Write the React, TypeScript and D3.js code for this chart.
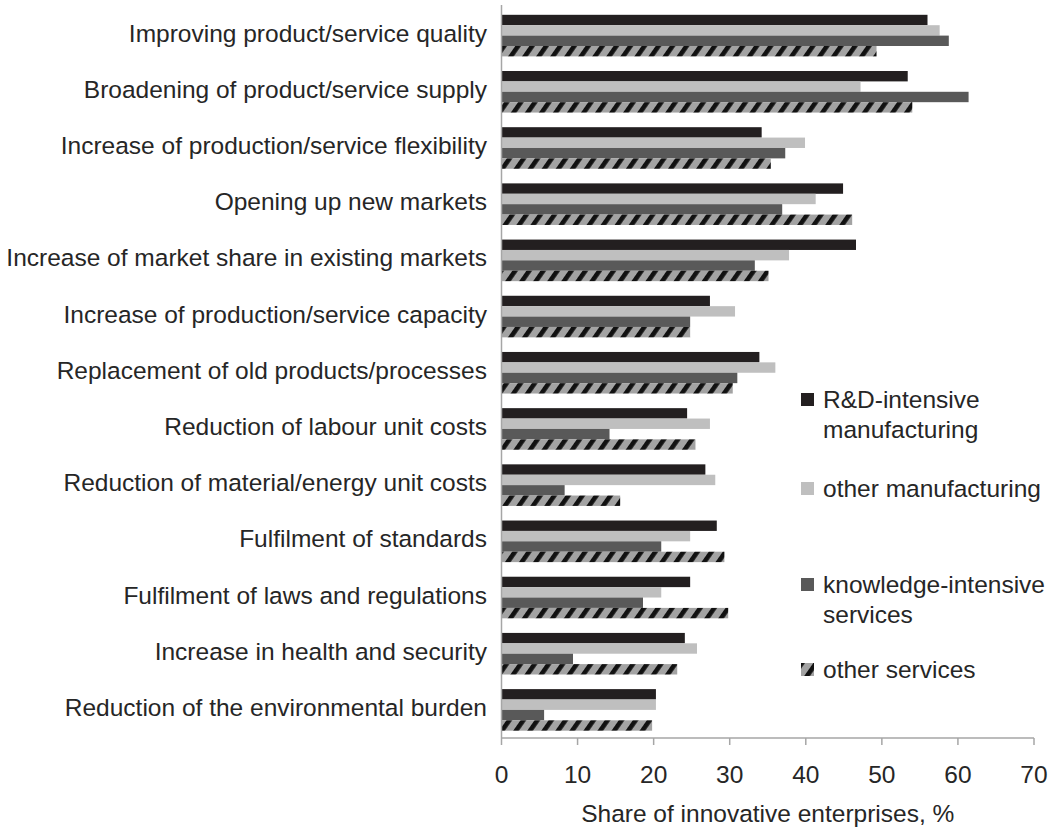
import * as d3 from "d3";

const categories = [
  "Improving product/service quality",
  "Broadening of product/service supply",
  "Increase of production/service flexibility",
  "Opening up new markets",
  "Increase of market share in existing markets",
  "Increase of production/service capacity",
  "Replacement of old products/processes",
  "Reduction of labour unit costs",
  "Reduction of material/energy unit costs",
  "Fulfilment of standards",
  "Fulfilment of laws and regulations",
  "Increase in health and security",
  "Reduction of the environmental burden",
];

const rdIntensive = [56.0, 53.4, 34.2, 44.9, 46.6, 27.4, 33.9, 24.4, 26.8, 28.3, 24.8, 24.1, 20.3];
const otherManufacturing = [57.6, 47.2, 39.9, 41.3, 37.8, 30.7, 36.0, 27.4, 28.1, 24.8, 21.0, 25.7, 20.3];
const knowledgeServices = [58.8, 61.4, 37.3, 36.9, 33.3, 24.8, 31.0, 14.2, 8.3, 21.0, 18.6, 9.4, 5.6];
const otherServices = [49.3, 54.0, 35.4, 46.1, 35.1, 24.8, 30.4, 25.5, 15.6, 29.3, 29.8, 23.1, 19.8];

const seriesNames = [
  ["R&D-intensive", "manufacturing"],
  ["other manufacturing"],
  ["knowledge-intensive", "services"],
  ["other services"],
];
const xTicks = [0, 10, 20, 30, 40, 50, 60, 70];

const fills = ["#231f20", "#bfbfbf", "#595959", "url(#hatch)"];
const font = "'Liberation Sans', Arial, sans-serif";
const textColor = "#262626";
const axisColor = "#a6a6a6";
const fs = 24.5;

export default function App() {
  const width = 1053;
  const height = 830;
  const plot = { left: 501.5, right: 1034, top: 7.5, bottom: 738 };
  const series = [rdIntensive, otherManufacturing, knowledgeServices, otherServices];

  const x = d3.scaleLinear().domain([0, 70]).range([plot.left, plot.right]);
  const y = d3
    .scaleBand<string>()
    .domain(categories)
    .range([plot.top, plot.bottom])
    .paddingInner(0.26)
    .paddingOuter(0.13);
  const sub = d3
    .scaleBand<number>()
    .domain(d3.range(series.length))
    .range([0, y.bandwidth()]);

  const legendY = [400, 489, 585, 670];

  return (
    <svg
      width={width}
      height={height}
      style={{ position: "absolute", left: 0, top: 0, background: "#fff" }}
      fontFamily={font}
    >
      <defs>
        <pattern
          id="hatch"
          width={11.5}
          height={11.5}
          patternUnits="userSpaceOnUse"
          patternTransform="rotate(35)"
        >
          <rect width={11.5} height={11.5} fill="#a3a3a3" />
          <rect x={0} width={4.6} height={11.5} fill="#111" />
        </pattern>
      </defs>

      {categories.map((cat, i) => (
        <g key={cat}>
          {series.map((vals, s) => (
            <rect
              key={s}
              x={x(0)}
              y={(y(cat) ?? 0) + (sub(s) ?? 0)}
              width={x(vals[i]) - x(0)}
              height={sub.bandwidth()}
              fill={fills[s]}
            />
          ))}
          <text
            x={487}
            y={(y(cat) ?? 0) + y.bandwidth() / 2 + 6}
            textAnchor="end"
            fontSize={fs}
            fill={textColor}
          >
            {cat}
          </text>
        </g>
      ))}

      {/* axes */}
      <line x1={x(0)} x2={x(0)} y1={5} y2={plot.bottom} stroke={axisColor} strokeWidth={1.5} />
      <line x1={x(0)} x2={x(70)} y1={plot.bottom} y2={plot.bottom} stroke={axisColor} strokeWidth={1.5} />
      {xTicks.map((t) => (
        <g key={t}>
          <line x1={x(t)} x2={x(t)} y1={plot.bottom} y2={plot.bottom + 7} stroke={axisColor} strokeWidth={1.5} />
          <text x={x(t)} y={783} textAnchor="middle" fontSize={fs} fill={textColor}>
            {t}
          </text>
        </g>
      ))}
      <text x={(plot.left + plot.right) / 2} y={822} textAnchor="middle" fontSize={fs} fill={textColor}>
        Share of innovative enterprises, %
      </text>

      {/* legend */}
      {seriesNames.map((lines, s) => (
        <g key={s}>
          <rect x={801} y={legendY[s] - 7} width={13} height={13} fill={fills[s]} />
          {lines.map((ln, j) => (
            <text key={ln} x={823} y={legendY[s] + 8 + j * 30} fontSize={fs} fill={textColor}>
              {ln}
            </text>
          ))}
        </g>
      ))}
    </svg>
  );
}
